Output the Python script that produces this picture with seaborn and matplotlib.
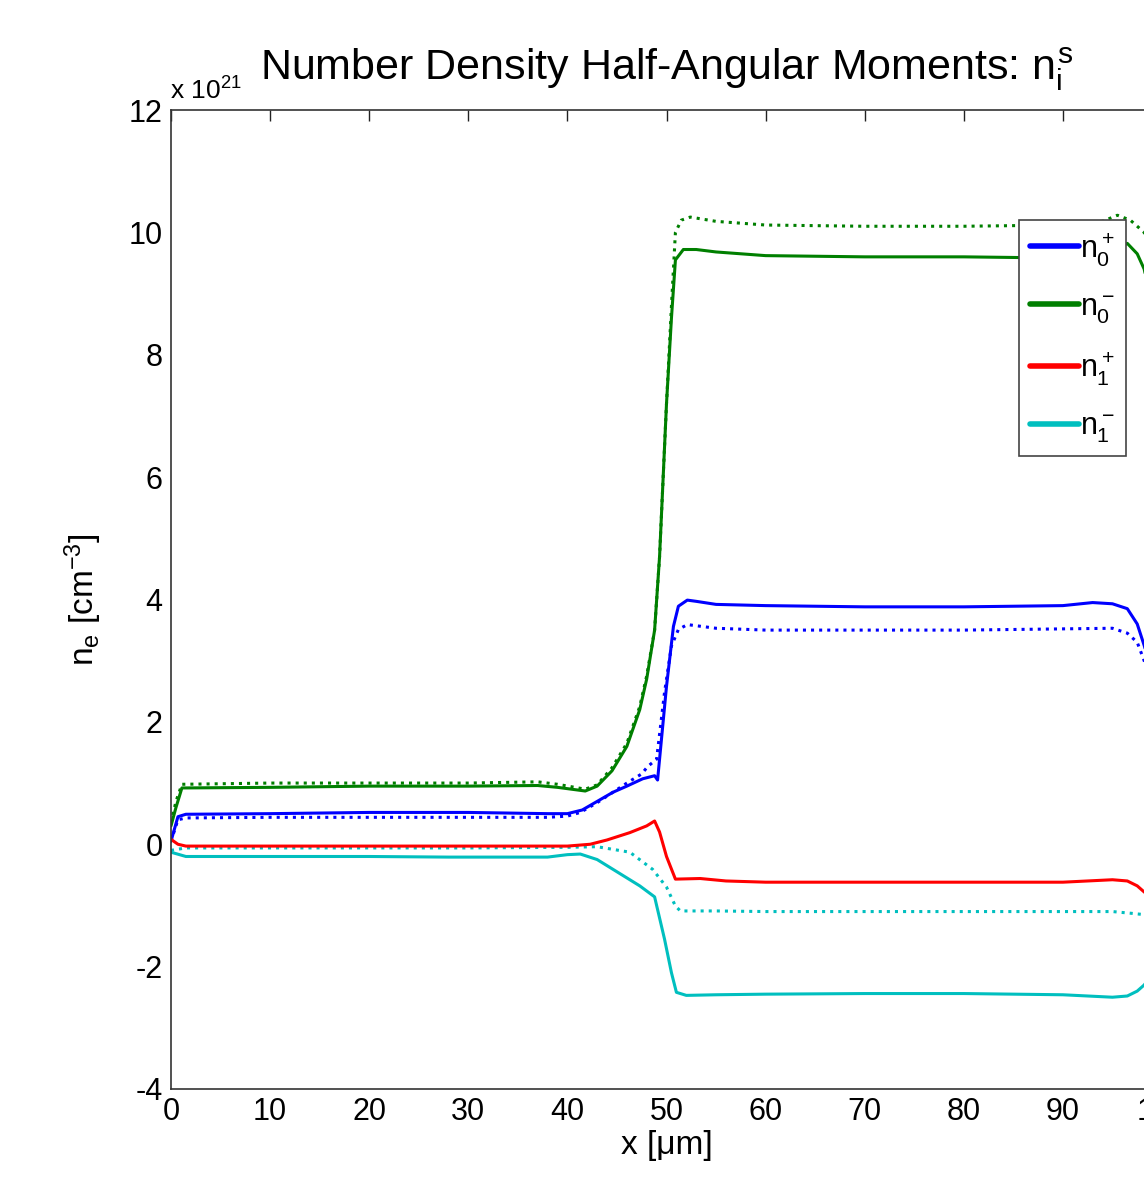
import numpy as np
import pandas as pd
import seaborn as sns
import matplotlib.pyplot as plt
from matplotlib.lines import Line2D

# values in units of 1e21 cm^-3
x_n0p = [0, 0.7, 1.5, 10, 20, 30, 38, 40, 41.5, 43, 44.6, 46, 47.6, 48.8, 49.1, 50.0, 50.7, 51.2, 52.1, 53,
         55, 60, 70, 80, 90, 93, 95, 96.5, 97.5, 98.2, 99, 100]
n0p = [0.05, 0.45, 0.49, 0.5, 0.52, 0.52, 0.5, 0.5, 0.56, 0.7, 0.85, 0.95, 1.07, 1.12, 1.05, 2.58, 3.56, 3.89, 3.99, 3.97,
       3.92, 3.9, 3.88, 3.88, 3.9, 3.95, 3.93, 3.85, 3.6, 3.25, 2.8, 2.2]

x_n0p_dot = [0, 0.7, 1.5, 10, 20, 30, 38, 40, 41.3, 43, 44.6, 46, 47.5, 48.1, 49, 49.8, 50.5, 51.2, 52.1,
             55, 60, 70, 80, 90, 95, 96.5, 97.5, 98.2, 99, 100]
n0p_dot = [0.05, 0.4, 0.43, 0.44, 0.44, 0.44, 0.44, 0.46, 0.52, 0.68, 0.85, 1.0, 1.15, 1.27, 1.39, 2.48, 3.24, 3.51, 3.59,
           3.53, 3.5, 3.5, 3.5, 3.52, 3.53, 3.45, 3.3, 3.0, 2.6, 2.0]

x_n0m = [0, 0.5, 1.1, 10, 20, 30, 37, 39, 41.8, 43, 44.5, 46, 47.3, 48, 48.8, 49.3, 50.0, 50.5, 50.9, 51.7, 53,
         55, 60, 70, 80, 90, 94, 95, 96.5, 97.5, 98.2, 99, 100]
n0m = [0.3, 0.6, 0.92, 0.93, 0.95, 0.95, 0.96, 0.93, 0.87, 0.95, 1.2, 1.6, 2.2, 2.7, 3.5, 4.7, 7.2, 8.6, 9.55, 9.72, 9.72,
       9.68, 9.62, 9.6, 9.6, 9.58, 9.62, 9.7, 9.82, 9.65, 9.4, 8.8, 7.8]

x_n0m_dot = [0, 0.5, 1.1, 10, 20, 30, 37, 39, 41.8, 43, 44.5, 46, 47.3, 48, 48.8, 49.3, 50.0, 50.5, 50.9, 51.5, 52.4,
             55, 60, 70, 80, 90, 94, 95.5, 96.8, 98.2, 99, 100]
n0m_dot = [0.35, 0.7, 0.98, 1.0, 1.0, 1.0, 1.02, 0.98, 0.9, 0.97, 1.25, 1.65, 2.25, 2.75, 3.5, 4.7, 7.2, 8.8, 10.0, 10.2, 10.25,
           10.18, 10.12, 10.1, 10.1, 10.12, 10.18, 10.28, 10.2, 10.0, 9.6, 8.8]

x_n1p = [0, 0.7, 1.5, 10, 20, 30, 40, 42.3, 44, 46.3, 48, 48.8, 49.3, 50, 50.9, 53.4, 56, 60, 70, 80, 90,
         95, 96.5, 97.5, 98.2, 100]
n1p = [0.08, 0.0, -0.03, -0.03, -0.03, -0.03, -0.03, 0.0, 0.07, 0.19, 0.3, 0.38, 0.2, -0.2, -0.57, -0.56, -0.6, -0.62,
       -0.62, -0.62, -0.62, -0.58, -0.6, -0.68, -0.78, -1.0]

x_n1m = [0, 1.5, 10, 20, 28, 38, 40, 41.3, 43, 44.6, 46, 47.3, 48.8, 49.8, 50.5, 51.0, 52, 55, 60, 70, 80, 90,
         95, 96.5, 97.5, 98.2, 100]
n1m = [-0.13, -0.2, -0.2, -0.2, -0.21, -0.21, -0.17, -0.16, -0.25, -0.41, -0.55, -0.68, -0.86, -1.55, -2.1, -2.42, -2.47,
       -2.46, -2.45, -2.44, -2.44, -2.46, -2.5, -2.48, -2.4, -2.3, -1.9]

x_n1m_dot = [0, 1.5, 10, 20, 30, 40, 43, 46.3, 48.6, 50, 50.9, 51.4, 55, 60, 70, 80, 90, 95, 97, 98.2, 100]
n1m_dot = [-0.1, -0.06, -0.06, -0.06, -0.06, -0.05, -0.04, -0.13, -0.41, -0.7, -1.01, -1.09, -1.09, -1.1, -1.1, -1.1,
           -1.1, -1.1, -1.13, -1.15, -1.3]

labels = ['$n_0^+$', '$n_0^-$', '$n_1^+$', '$n_1^-$']
colors = ['#0000ff', '#007f00', '#ff0000', '#00bfbf']
x_ticks = [0, 10, 20, 30, 40, 50, 60, 70, 80, 90, 100]
y_ticks = [-4, -2, 0, 2, 4, 6, 8, 10, 12]

sns.set_theme(style='white')
plt.rcParams['font.family'] = ['Liberation Sans', 'DejaVu Sans']
plt.rcParams['mathtext.fontset'] = 'custom'
plt.rcParams['mathtext.rm'] = 'Liberation Sans'
plt.rcParams['mathtext.it'] = 'Liberation Sans'
plt.rcParams['mathtext.bf'] = 'Liberation Sans'
plt.rcParams['axes.unicode_minus'] = False
plt.rcParams['text.color'] = 'black'
plt.rcParams['axes.labelcolor'] = 'black'

W, H = 1144, 1196
fig = plt.figure(figsize=(W / 100, H / 100), dpi=100)
fig.patch.set_facecolor('white')
ax = fig.add_axes([171 / W, 1 - 1089 / H, (1162 - 171) / W, (1089 - 110) / H])

lw = 2.2
sns.lineplot(x=x_n0p_dot, y=n0p_dot, ax=ax, color=colors[0], lw=lw, linestyle=':', legend=False)
sns.lineplot(x=x_n0m_dot, y=n0m_dot, ax=ax, color=colors[1], lw=lw, linestyle=':', legend=False)
sns.lineplot(x=x_n1m_dot, y=n1m_dot, ax=ax, color=colors[3], lw=lw, linestyle=':', legend=False)
sns.lineplot(x=x_n0p, y=n0p, ax=ax, color=colors[0], lw=lw, legend=False)
sns.lineplot(x=x_n0m, y=n0m, ax=ax, color=colors[1], lw=lw, legend=False)
sns.lineplot(x=x_n1p, y=n1p, ax=ax, color=colors[2], lw=lw, legend=False)
sns.lineplot(x=x_n1m, y=n1m, ax=ax, color=colors[3], lw=lw, legend=False)

ax.set_xlim(0, 100)
ax.set_ylim(-4, 12)
ax.set_xticks(x_ticks)
ax.set_yticks(y_ticks)
ax.tick_params(axis='both', which='both', direction='in', length=8, width=1, top=True, right=True,
               labelsize=22, pad=6, colors='#222222', labelcolor='black')
for sp in ax.spines.values():
    sp.set_visible(True)
    sp.set_linewidth(1.2)
    sp.set_color('#333333')

ax.set_xlabel('x [\u03bcm]', fontsize=24, labelpad=2)
ax.set_ylabel('n$_e$ [cm$^{-3}$]', fontsize=24, labelpad=18)
ax.set_title('Number Density Half-Angular Moments: $n_i^s$', fontsize=31, pad=22, color='black')
fig.text(170 / W, 1 - 100 / H, 'x 10$^{21}$', fontsize=19, ha='left', va='baseline')

handles = [Line2D([0], [0], color=c, lw=4) for c in colors]
leg = fig.legend(handles, labels, loc='upper left', bbox_to_anchor=(1019 / W, 1 - 220 / H),
                 fontsize=22, frameon=True, fancybox=False, framealpha=1, handlelength=1.6,
                 handletextpad=0.05, labelspacing=0.8, borderpad=0.35, borderaxespad=0)
leg.get_frame().set_edgecolor('#444444')
leg.get_frame().set_linewidth(1.2)

fig.savefig('out.png', dpi=100)
